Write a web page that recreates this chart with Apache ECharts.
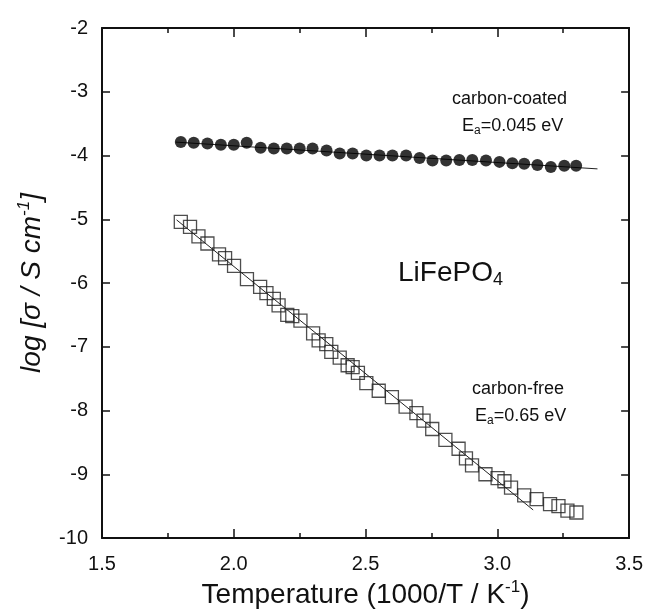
<!DOCTYPE html>
<html>
<head>
<meta charset="utf-8">
<script src="https://cdn.jsdelivr.net/npm/echarts@6/dist/echarts.min.js"></script>
<style>
html,body{margin:0;padding:0;background:#fff;}
#chart{width:646px;height:614px;}
</style>
</head>
<body>
<div id="chart"></div>
<script>
// carbon-coated LiFePO4 (filled circles)
const coatedX = [1.799,1.848,1.900,1.951,2.000,2.049,2.102,2.152,2.201,2.250,2.299,2.352,2.402,2.451,2.503,2.553,2.602,2.654,2.705,2.754,2.806,2.856,2.905,2.957,3.008,3.057,3.102,3.152,3.203,3.254,3.299];
const coatedY = [-3.79,-3.80,-3.81,-3.83,-3.83,-3.80,-3.88,-3.89,-3.89,-3.89,-3.89,-3.92,-3.97,-3.97,-4.00,-4.00,-4.00,-4.00,-4.04,-4.08,-4.08,-4.07,-4.07,-4.08,-4.10,-4.12,-4.13,-4.15,-4.18,-4.16,-4.16];
// carbon-free LiFePO4 (open squares)
const freeX = [1.799,1.834,1.866,1.900,1.944,1.967,2.001,2.050,2.100,2.124,2.152,2.170,2.203,2.222,2.253,2.301,2.322,2.351,2.370,2.402,2.432,2.451,2.471,2.503,2.550,2.600,2.652,2.693,2.720,2.753,2.803,2.853,2.881,2.904,2.955,3.001,3.027,3.052,3.102,3.149,3.200,3.232,3.266,3.300];
const freeY = [-5.04,-5.12,-5.27,-5.38,-5.55,-5.61,-5.73,-5.94,-6.06,-6.16,-6.25,-6.35,-6.50,-6.52,-6.59,-6.79,-6.90,-6.96,-7.08,-7.17,-7.29,-7.32,-7.41,-7.57,-7.69,-7.79,-7.94,-8.04,-8.16,-8.29,-8.46,-8.60,-8.75,-8.86,-9.00,-9.06,-9.11,-9.21,-9.33,-9.39,-9.47,-9.50,-9.57,-9.60];
// Arrhenius fit lines
const coatedFitX = [1.78, 3.38];
const coatedFitY = [-3.79, -4.21];
const freeFitX = [1.783, 3.136];
const freeFitY = [-5.01, -9.56];
// axis ticks
const xMin = 1.5, xMax = 3.5, xStep = 0.5;
const yMin = -10, yMax = -2, yStep = 1;

const zip = (a, b) => a.map((v, i) => [v, b[i]]);
const FONT = '"Liberation Sans", Arial, Helvetica, sans-serif';
const INK = '#111';

const chart = echarts.init(document.getElementById('chart'), null, {renderer: 'canvas'});

function xAxisCfg(pos, showLabels) {
  return {
    type: 'value', position: pos, min: xMin, max: xMax, interval: xStep,
    axisLine: {show: true, onZero: false, lineStyle: {color: INK, width: 2}},
    axisTick: {show: true, inside: true, length: 9, lineStyle: {color: INK, width: 1.5}},
    minorTick: {show: true, splitNumber: 2, length: 5, lineStyle: {color: INK, width: 1.5}},
    splitLine: {show: false}, minorSplitLine: {show: false},
    axisLabel: {show: showLabels, fontSize: 20, color: INK, fontFamily: FONT, margin: 16,
      formatter: v => v.toFixed(1)},
    name: showLabels ? '{a|Temperature (1000/T / K}{sup|-1}{a|)}' : '',
    nameLocation: 'middle', nameGap: 40,
    nameTextStyle: {fontFamily: FONT, color: INK,
      rich: {a: {fontSize: 28, fontFamily: FONT, color: INK, lineHeight: 32},
             sup: {fontSize: 17, fontFamily: FONT, color: INK, verticalAlign: 'top', lineHeight: 32, padding: [0,0,12,0]}}}
  };
}
function yAxisCfg(pos, showLabels) {
  return {
    type: 'value', position: pos, min: yMin, max: yMax, interval: yStep,
    axisLine: {show: true, onZero: false, lineStyle: {color: INK, width: 2}},
    axisTick: {show: true, inside: true, length: 8, lineStyle: {color: INK, width: 1.5}},
    splitLine: {show: false},
    axisLabel: {show: showLabels, fontSize: 20, color: INK, fontFamily: FONT, margin: 14},
    name: showLabels ? '{a|log [σ / S cm}{sup|-1}{a|]}' : '',
    nameLocation: 'middle', nameGap: 54, nameRotate: 90,
    nameTextStyle: {fontFamily: FONT, color: INK,
      rich: {a: {fontSize: 28, fontStyle: 'italic', fontFamily: FONT, color: INK, lineHeight: 32},
             sup: {fontSize: 17, fontStyle: 'italic', fontFamily: FONT, color: INK, verticalAlign: 'top', lineHeight: 32, padding: [0,0,12,0]}}}
  };
}

const option = {
  backgroundColor: '#fff',
  animation: false,
  grid: {left: 102, right: 16, top: 28, bottom: 76, containLabel: false},
  xAxis: [xAxisCfg('bottom', true), xAxisCfg('top', false)],
  yAxis: [yAxisCfg('left', true), yAxisCfg('right', false)],
  series: [
    {type: 'line', data: zip(coatedFitX, coatedFitY), showSymbol: false, symbol: 'none',
     lineStyle: {color: '#222', width: 1}, z: 1, silent: true},
    {type: 'line', data: zip(freeFitX, freeFitY), showSymbol: false, symbol: 'none',
     lineStyle: {color: '#222', width: 1}, z: 3, silent: true},
    {type: 'scatter', data: zip(coatedX, coatedY), symbol: 'circle', symbolSize: 12,
     itemStyle: {color: '#000'}, z: 2, silent: true},
    {type: 'scatter', data: zip(freeX, freeY), symbol: 'rect', symbolSize: 13,
     itemStyle: {color: 'rgba(255,255,255,0)', borderColor: '#222', borderWidth: 1.3}, z: 2, silent: true}
  ],
  graphic: [
    {type: 'text', left: 452, top: 90, style: {text: 'carbon-coated', font: '18px ' + FONT, fill: INK}},
    {type: 'text', left: 462, top: 117, style: {
      text: '{n|E}{s|a}{n|=0.045 eV}',
      rich: {n: {fontSize: 18, fontFamily: FONT, fill: INK, lineHeight: 22},
             s: {fontSize: 12, fontFamily: FONT, fill: INK, lineHeight: 14, verticalAlign: 'bottom'}}}},
    {type: 'text', left: 398, top: 259, style: {
      text: '{n|LiFePO}{s|4}',
      rich: {n: {fontSize: 28, fontFamily: FONT, fill: INK, lineHeight: 32},
             s: {fontSize: 18, fontFamily: FONT, fill: INK, lineHeight: 20, verticalAlign: 'bottom'}}}},
    {type: 'text', left: 472, top: 380, style: {text: 'carbon-free', font: '18px ' + FONT, fill: INK}},
    {type: 'text', left: 475, top: 407, style: {
      text: '{n|E}{s|a}{n|=0.65 eV}',
      rich: {n: {fontSize: 18, fontFamily: FONT, fill: INK, lineHeight: 22},
             s: {fontSize: 12, fontFamily: FONT, fill: INK, lineHeight: 14, verticalAlign: 'bottom'}}}}
  ]
};
chart.setOption(option);
</script>
</body>
</html>
